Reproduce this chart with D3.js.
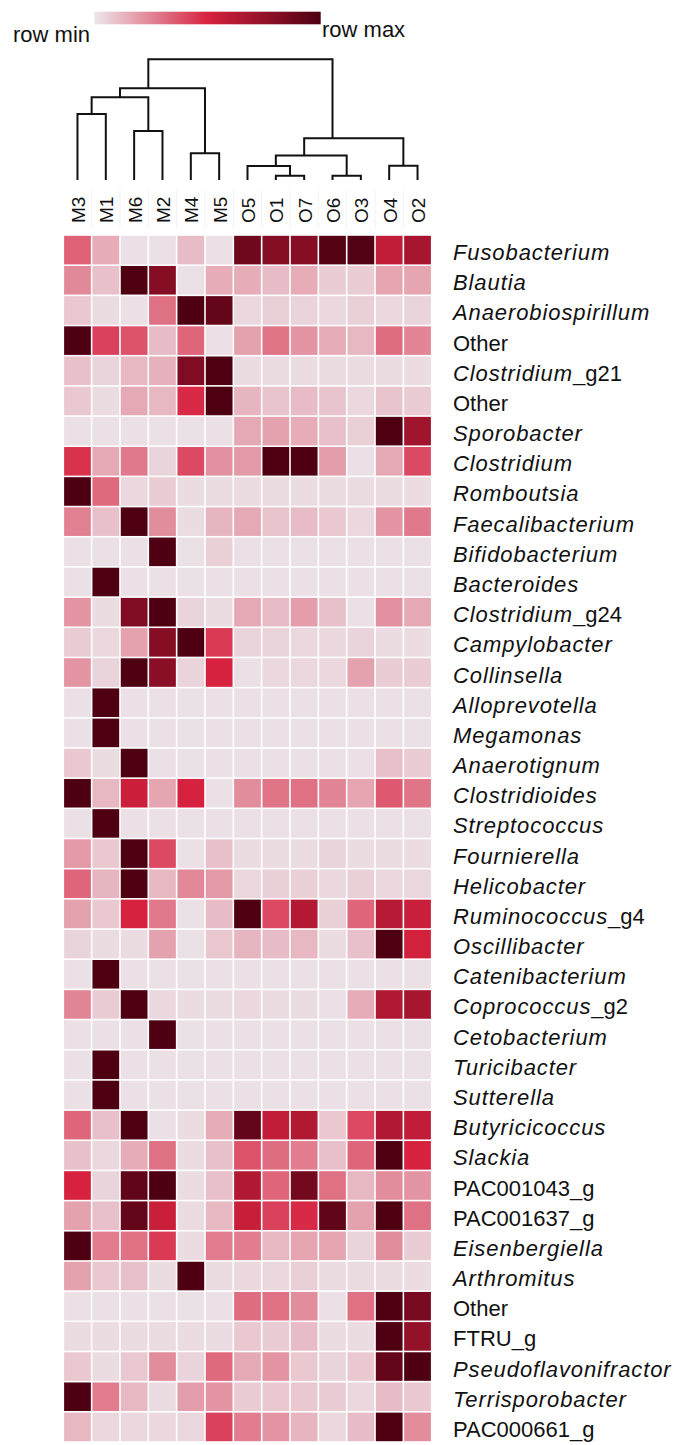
<!DOCTYPE html>
<html>
<head>
<meta charset="utf-8">
<script src="https://cdn.jsdelivr.net/npm/d3@7"></script>
<style>
  body { margin: 0; background: #fff; }
  svg { display: block; font-family: "Liberation Sans", Arial, Helvetica, sans-serif; }
</style>
</head>
<body>
<svg id="chart" width="673" height="1445"></svg>
<script>
// column order as shown after clustering
var columns = ["M3", "M1", "M6", "M2", "M4", "M5", "O5", "O1", "O7", "O6", "O3", "O4", "O2"];

// row labels: [italic part, upright part]
var rowLabels = [
  ["Fusobacterium", ""], ["Blautia", ""], ["Anaerobiospirillum", ""], ["", "Other"],
  ["Clostridium", "_g21"], ["", "Other"], ["Sporobacter", ""], ["Clostridium", ""],
  ["Romboutsia", ""], ["Faecalibacterium", ""], ["Bifidobacterium", ""], ["Bacteroides", ""],
  ["Clostridium", "_g24"], ["Campylobacter", ""], ["Collinsella", ""], ["Alloprevotella", ""],
  ["Megamonas", ""], ["Anaerotignum", ""], ["Clostridioides", ""], ["Streptococcus", ""],
  ["Fournierella", ""], ["Helicobacter", ""], ["Ruminococcus", "_g4"], ["Oscillibacter", ""],
  ["Catenibacterium", ""], ["Coprococcus", "_g2"], ["Cetobacterium", ""], ["Turicibacter", ""],
  ["Sutterella", ""], ["Butyricicoccus", ""], ["Slackia", ""], ["", "PAC001043_g"],
  ["", "PAC001637_g"], ["Eisenbergiella", ""], ["Arthromitus", ""], ["", "Other"],
  ["", "FTRU_g"], ["Pseudoflavonifractor", ""], ["Terrisporobacter", ""], ["", "PAC000661_g"]
];

// row-scaled abundance (0 = row min, 1 = row max), one array per row, in column order
var values = [
  [0.34, 0.15, 0.02, 0.02, 0.11, 0.02, 0.88, 0.80, 0.80, 0.97, 0.98, 0.58, 0.68],
  [0.24, 0.10, 1.00, 0.80, 0.02, 0.15, 0.15, 0.11, 0.15, 0.07, 0.07, 0.17, 0.17],
  [0.08, 0.03, 0.02, 0.30, 1.00, 0.92, 0.04, 0.06, 0.05, 0.04, 0.06, 0.04, 0.05],
  [1.00, 0.42, 0.38, 0.11, 0.33, 0.02, 0.18, 0.29, 0.21, 0.15, 0.12, 0.31, 0.25],
  [0.10, 0.05, 0.12, 0.14, 0.82, 1.00, 0.03, 0.03, 0.03, 0.03, 0.03, 0.03, 0.03],
  [0.08, 0.03, 0.16, 0.12, 0.48, 1.00, 0.13, 0.09, 0.11, 0.09, 0.04, 0.09, 0.07],
  [0.02, 0.02, 0.02, 0.02, 0.02, 0.02, 0.16, 0.18, 0.15, 0.10, 0.06, 1.00, 0.70],
  [0.46, 0.16, 0.28, 0.05, 0.40, 0.22, 0.20, 1.00, 1.00, 0.19, 0.02, 0.16, 0.40],
  [1.00, 0.32, 0.04, 0.07, 0.03, 0.03, 0.03, 0.03, 0.03, 0.03, 0.03, 0.03, 0.03],
  [0.26, 0.10, 1.00, 0.23, 0.03, 0.13, 0.16, 0.09, 0.11, 0.08, 0.04, 0.21, 0.28],
  [0.02, 0.02, 0.02, 1.00, 0.02, 0.06, 0.02, 0.02, 0.02, 0.02, 0.02, 0.02, 0.02],
  [0.02, 1.00, 0.02, 0.02, 0.02, 0.02, 0.02, 0.02, 0.02, 0.02, 0.02, 0.02, 0.02],
  [0.21, 0.03, 0.82, 1.00, 0.05, 0.03, 0.16, 0.11, 0.19, 0.10, 0.02, 0.22, 0.16],
  [0.07, 0.04, 0.18, 0.80, 1.00, 0.44, 0.05, 0.05, 0.04, 0.04, 0.05, 0.03, 0.03],
  [0.21, 0.05, 1.00, 0.78, 0.05, 0.50, 0.02, 0.04, 0.04, 0.04, 0.18, 0.07, 0.07],
  [0.02, 1.00, 0.02, 0.02, 0.02, 0.02, 0.02, 0.02, 0.02, 0.02, 0.02, 0.02, 0.02],
  [0.02, 1.00, 0.02, 0.02, 0.02, 0.02, 0.02, 0.02, 0.02, 0.02, 0.02, 0.02, 0.02],
  [0.08, 0.03, 1.00, 0.02, 0.02, 0.02, 0.02, 0.02, 0.02, 0.02, 0.02, 0.10, 0.07],
  [1.00, 0.12, 0.54, 0.17, 0.50, 0.02, 0.23, 0.29, 0.30, 0.25, 0.17, 0.36, 0.29],
  [0.02, 1.00, 0.02, 0.02, 0.02, 0.02, 0.02, 0.02, 0.02, 0.02, 0.02, 0.02, 0.02],
  [0.20, 0.08, 1.00, 0.40, 0.02, 0.10, 0.03, 0.03, 0.03, 0.05, 0.03, 0.03, 0.03],
  [0.33, 0.13, 1.00, 0.12, 0.24, 0.20, 0.04, 0.06, 0.06, 0.04, 0.06, 0.04, 0.04],
  [0.18, 0.08, 0.50, 0.28, 0.02, 0.11, 1.00, 0.40, 0.63, 0.06, 0.33, 0.62, 0.55],
  [0.05, 0.03, 0.03, 0.18, 0.02, 0.08, 0.13, 0.11, 0.12, 0.03, 0.10, 1.00, 0.52],
  [0.02, 1.00, 0.02, 0.02, 0.02, 0.02, 0.02, 0.02, 0.02, 0.02, 0.02, 0.02, 0.02],
  [0.25, 0.07, 1.00, 0.04, 0.03, 0.03, 0.04, 0.03, 0.03, 0.02, 0.15, 0.64, 0.68],
  [0.02, 0.02, 0.02, 1.00, 0.02, 0.02, 0.02, 0.02, 0.02, 0.02, 0.02, 0.02, 0.02],
  [0.02, 1.00, 0.02, 0.02, 0.02, 0.02, 0.02, 0.02, 0.02, 0.02, 0.02, 0.02, 0.02],
  [0.02, 1.00, 0.02, 0.02, 0.02, 0.02, 0.02, 0.02, 0.02, 0.02, 0.02, 0.02, 0.02],
  [0.33, 0.10, 1.00, 0.02, 0.03, 0.15, 0.92, 0.58, 0.64, 0.08, 0.40, 0.64, 0.58],
  [0.10, 0.04, 0.15, 0.30, 0.03, 0.10, 0.38, 0.31, 0.27, 0.10, 0.33, 1.00, 0.50],
  [0.50, 0.05, 0.93, 1.00, 0.03, 0.10, 0.64, 0.33, 0.87, 0.30, 0.12, 0.23, 0.21],
  [0.18, 0.10, 0.92, 0.55, 0.03, 0.12, 0.56, 0.42, 0.48, 0.93, 0.18, 1.00, 0.30],
  [1.00, 0.27, 0.30, 0.44, 0.03, 0.27, 0.27, 0.12, 0.17, 0.17, 0.05, 0.23, 0.07],
  [0.18, 0.08, 0.10, 0.03, 1.00, 0.03, 0.04, 0.04, 0.06, 0.03, 0.03, 0.03, 0.03],
  [0.02, 0.02, 0.02, 0.02, 0.02, 0.02, 0.31, 0.30, 0.23, 0.02, 0.30, 1.00, 0.85],
  [0.03, 0.03, 0.03, 0.03, 0.03, 0.03, 0.08, 0.07, 0.11, 0.03, 0.03, 1.00, 0.75],
  [0.08, 0.03, 0.08, 0.23, 0.05, 0.32, 0.16, 0.21, 0.08, 0.05, 0.08, 0.92, 1.00],
  [1.00, 0.27, 0.12, 0.03, 0.19, 0.21, 0.07, 0.08, 0.08, 0.07, 0.04, 0.11, 0.08],
  [0.12, 0.04, 0.04, 0.04, 0.04, 0.42, 0.27, 0.21, 0.13, 0.04, 0.11, 1.00, 0.23]
];

// column dendrogram: merge height (root = 1) and children
var dendrogram = {h: 1.0, children: [
  {h: 0.76, children: [
    {h: 0.685, children: [
      {h: 0.547, children: [{name: "M3"}, {name: "M1"}]},
      {h: 0.406, children: [{name: "M6"}, {name: "M2"}]}
    ]},
    {h: 0.221, children: [{name: "M4"}, {name: "M5"}]}
  ]},
  {h: 0.346, children: [
    {h: 0.202, children: [
      {h: 0.116, children: [{name: "O5"}, {h: 0.036, children: [{name: "O1"}, {name: "O7"}]}]},
      {h: 0.036, children: [{name: "O6"}, {name: "O3"}]}
    ]},
    {h: 0.118, children: [{name: "O4"}, {name: "O2"}]}
  ]}
]};

var colorStops = ["#ece8ec", "#d7223f", "#4e0012"];

var svg = d3.select("#chart");

var heatLeft = 63.3, heatRight = 431.7, heatTop = 235, heatBottom = 1442;

var x = d3.scaleBand().domain(columns).range([heatLeft, heatRight]);
var y = d3.scaleBand().domain(d3.range(rowLabels.length)).range([heatTop, heatBottom]);
var color = d3.scaleLinear().domain([0, 0.5, 1]).range(colorStops);
var hy = d3.scaleLinear().domain([0, 1]).range([180, 59.3]);

// ---- legend bar
var grad = svg.append("defs").append("linearGradient").attr("id", "rowgrad");
d3.range(0, 1.001, 0.1).forEach(function(t) {
  grad.append("stop").attr("offset", t * 100 + "%").attr("stop-color", color(t));
});
svg.append("rect")
  .attr("x", 94.3).attr("y", 11.7)
  .attr("width", 226.4).attr("height", 12.6)
  .attr("fill", "url(#rowgrad)");
svg.append("text").attr("x", 13).attr("y", 41.5)
  .style("font-size", "22px").attr("fill", "#111").text("row min");
svg.append("text").attr("x", 322).attr("y", 36.5)
  .style("font-size", "22px").attr("fill", "#111").text("row max");

// ---- dendrogram
var root = d3.hierarchy(dendrogram);
root.eachAfter(function(n) {
  if (!n.children) {
    n.px = x(n.data.name) + x.bandwidth() / 2;
    n.py = hy(0);
  } else {
    // parent sits over the mean of its leaves
    n.px = d3.mean(n.leaves(), function(l) { return x(l.data.name) + x.bandwidth() / 2; });
    n.py = hy(n.data.h);
  }
});

var dg = svg.append("g").attr("class", "dendrogram")
  .attr("fill", "none").attr("stroke", "#111").attr("stroke-width", 2);

root.descendants().filter(function(n) { return n.children; }).forEach(function(n) {
  var kids = n.children;
  dg.append("path").attr("d",
    "M" + kids[0].px + "," + kids[0].py +
    "V" + n.py +
    "H" + kids[kids.length - 1].px +
    "V" + kids[kids.length - 1].py);
});

// ---- column labels
svg.append("g").selectAll("line")
  .data(columns.slice(1))
  .enter().append("line")
  .attr("x1", function(d) { return x(d); }).attr("x2", function(d) { return x(d); })
  .attr("y1", 190).attr("y2", 228)
  .attr("stroke", "#f2f2f2").attr("stroke-width", 1);

svg.append("g").selectAll("text")
  .data(columns)
  .enter().append("text")
  .attr("transform", function(d) {
    return "translate(" + (x(d) + x.bandwidth() / 2 + 1) + ",223) rotate(-90)";
  })
  .attr("dominant-baseline", "central")
  .style("font-size", "19px")
  .attr("fill", "#111")
  .text(function(d) { return d; });

// ---- heatmap cells
var cells = [];
values.forEach(function(row, i) {
  row.forEach(function(v, j) {
    cells.push({row: i, col: columns[j], value: v});
  });
});

svg.append("g").selectAll("rect")
  .data(cells)
  .enter().append("rect")
  .attr("x", function(d) { return x(d.col) + 0.8; })
  .attr("y", function(d) { return y(d.row) + 0.8; })
  .attr("width", x.bandwidth() - 1.6)
  .attr("height", y.bandwidth() - 1.6)
  .attr("fill", function(d) { return color(d.value); });

// ---- row labels
var rl = svg.append("g").selectAll("text")
  .data(rowLabels)
  .enter().append("text")
  .attr("x", 453)
  .attr("y", function(d, i) { return y(i) + y.bandwidth() / 2 + 10; })
  .style("font-size", "22px")
  .attr("fill", "#111");

rl.append("tspan")
  .style("font-style", "italic")
  .style("letter-spacing", "0.9px")
  .text(function(d) { return d[0]; });
rl.append("tspan").text(function(d) { return d[1]; });
</script>
</body>
</html>
